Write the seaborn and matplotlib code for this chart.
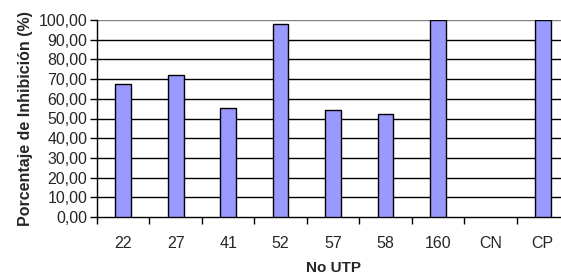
import pandas as pd
import matplotlib.pyplot as plt
import matplotlib.ticker as mticker
import seaborn as sns

# Values
categories = ['22', '27', '41', '52', '57', '58', '160', 'CN', 'CP']
inhibition = [67.5, 72.0, 55.5, 97.8, 54.2, 52.3, 100.0, 0.0, 100.0]
yticks = [0, 10, 20, 30, 40, 50, 60, 70, 80, 90, 100]

df = pd.DataFrame({'UTP': categories, 'Inhibicion': inhibition})

sns.set_style('white')
plt.rcParams['font.family'] = ['Liberation Sans', 'DejaVu Sans']

fig = plt.figure(figsize=(5.61, 2.75), dpi=100)
ax = fig.add_axes([97 / 561, 1 - 217 / 275, 472 / 561, 197 / 275])

sns.barplot(data=df, x='UTP', y='Inhibicion', color='#9999ff', width=0.3,
            edgecolor='black', linewidth=1, saturation=1, ax=ax, zorder=3)
# zero-height bars leave no mark
for p in ax.patches:
    if p.get_height() == 0:
        p.set_visible(False)

ax.set_xlim(-0.5, len(categories) - 0.5)
ax.set_ylim(0, 100)
ax.set_yticks(yticks)
ax.yaxis.set_major_formatter(mticker.FuncFormatter(lambda v, p: f'{v:.2f}'.replace('.', ',')))
for y in yticks[1:]:
    ax.axhline(y, color='#808080' if y == 100 else 'black', lw=1, zorder=1)

# ticks on category boundaries
ax.set_xticks([i - 0.5 for i in range(len(categories) + 1)], minor=False)
ax.set_xticklabels([])
ax.set_xticks(range(len(categories)), minor=True)
ax.set_xticklabels(categories, minor=True)
ax.tick_params(axis='x', which='major', direction='out', length=5, width=1, color='black', bottom=True)
ax.tick_params(axis='x', which='minor', length=0, pad=14, labelsize=11.5)
ax.tick_params(axis='y', direction='out', length=5, width=1, color='black', left=True, labelsize=11.5, pad=2)

for s in ['top', 'right']:
    ax.spines[s].set_visible(False)
for s in ['left', 'bottom']:
    ax.spines[s].set_color('black')
    ax.spines[s].set_linewidth(1)

ax.set_xlabel('No UTP', fontsize=11, fontweight='bold', labelpad=7)
ax.set_ylabel('Porcentaje de Inhibición (%)', fontsize=11.5, fontweight='bold', labelpad=4)

fig.savefig('out.png', dpi=100)
